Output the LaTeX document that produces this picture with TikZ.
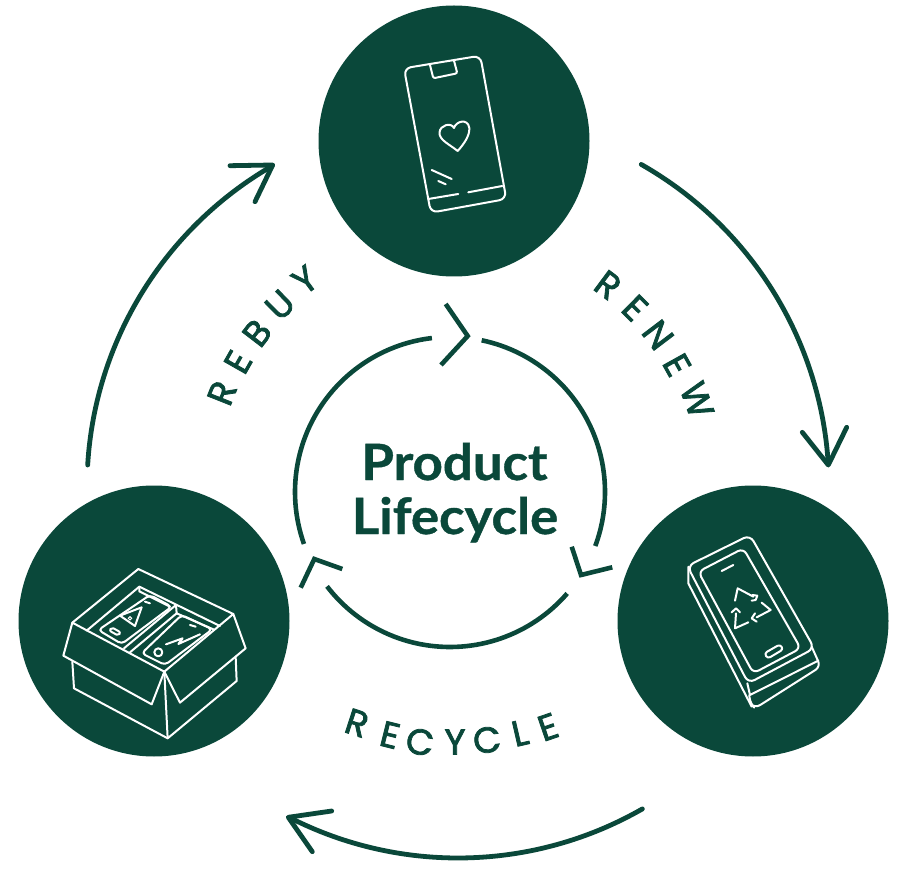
\documentclass[tikz,border=0pt]{standalone}
\usepackage{fontspec}
\usetikzlibrary{calc}
\setmainfont{Lato}[BoldFeatures={FakeBold=0.8}]
\newfontfamily\labfont{Poppins}[FakeBold=2.2]
\definecolor{forest}{HTML}{0A483A}
\tikzset{
  hub/.style={circle,fill=forest,draw=none,minimum size=271pt,inner sep=0pt},
  flow/.style={draw=forest,line width=4.8pt,line cap=round,line join=round},
  ring/.style={draw=forest,line width=4.6pt,line cap=butt,line join=miter},
  icon/.style={draw=white,line width=2pt,line join=round,line cap=round},
  glyph/.style={text=forest,font=\labfont\fontsize{36}{36}\selectfont,inner sep=0pt,anchor=center},
  heading/.style={text=forest,font=\bfseries\fontsize{50}{50}\selectfont,inner sep=0pt,anchor=base,xscale=1.055}
}
\begin{document}
\begin{tikzpicture}[x=1pt,y=-1pt]
\useasboundingbox (0,0) rectangle (908,874);
\node[hub] (hubTop) at (454,141) {};
\node[hub] (hubLeft) at (154,621) {};
\node[hub] (hubRight) at (753,621) {};

% outer arcs
\coordinate (renewS) at ($(458,487)+(-60.4:371)$);
\coordinate (rebuyS) at ($(458,487)+(183.4:371)$);
\coordinate (recycleS) at ($(458,487)+(60.2:371)$);
\coordinate (renewT) at (828.3,465);
\coordinate (rebuyT) at (272.7,165);
\coordinate (recycleT) at (288.3,817.3);
\draw[flow] (renewS) arc[start angle=-60.4,end angle=-3.6,radius=371];
\draw[flow] (rebuyS) arc[start angle=183.4,end angle=239.7,radius=371];
\draw[flow] (recycleS) arc[start angle=60.2,end angle=117,radius=371];
\coordinate (renewA) at (802.3,432.3);
\coordinate (renewB) at (846.7,427.3);
\coordinate (rebuyA) at (230,165.7);
\coordinate (rebuyB) at (255,201.7);
\coordinate (recycleA) at (331.7,811);
\coordinate (recycleB) at (312.3,851.7);
\draw[flow] (renewA) -- (renewT) -- (renewB);
\draw[flow] (rebuyA) -- (rebuyT) -- (rebuyB);
\draw[flow] (recycleA) -- (recycleT) -- (recycleB);

% inner ring
\coordinate (ringA) at ($(450,492)+(-78.2:155)$);
\coordinate (ringB) at ($(450,492)+(40.9:155)$);
\coordinate (ringC) at ($(450,492)+(160.4:155)$);
\draw[ring] (ringA) arc[start angle=-78.2,end angle=20.4,radius=155];
\draw[ring] (ringB) arc[start angle=40.9,end angle=142.5,radius=155];
\draw[ring] (ringC) arc[start angle=160.4,end angle=263.3,radius=155];
\coordinate (chevA1) at (445.7,304);
\coordinate (chevA2) at (467.7,336);
\coordinate (chevA3) at (441,365);
\coordinate (chevB1) at (571.7,546.7);
\coordinate (chevB2) at (581,575);
\coordinate (chevB3) at (612.3,567.3);
\coordinate (chevC1) at (300.7,587.7);
\coordinate (chevC2) at (314.3,559);
\coordinate (chevC3) at (342.3,569);
\draw[ring] (chevA1) -- (chevA2) -- (chevA3);
\draw[ring] (chevB1) -- (chevB2) -- (chevB3);
\draw[ring] (chevC1) -- (chevC2) -- (chevC3);

% title
\node[heading] (titleA) at (454.5,480) {Product};
\node[heading] (titleB) at (455,534) {Lifecycle};

% labels
\node[glyph,rotate=-36.6] (rn1) at (608,285) {R};
\node[glyph,rotate=-44.7] (rn2) at (635,308) {E};
\node[glyph,rotate=-52.8] (rn3) at (658,335) {N};
\node[glyph,rotate=-60.9] (rn4) at (677,365) {E};
\node[glyph,rotate=-70] (rn5) at (697,400) {W};
\node[glyph,rotate=68.3] (rb1) at (222,393) {R};
\node[glyph,rotate=60.4] (rb2) at (238,362) {E};
\node[glyph,rotate=52.5] (rb3) at (257,333) {B};
\node[glyph,rotate=44.4] (rb4) at (280,305) {U};
\node[glyph,rotate=36.5] (rb5) at (305,280) {Y};
\node[glyph,rotate=-18] (rc1) at (357,723) {R};
\node[glyph,rotate=-14] (rc2) at (390,735) {E};
\node[glyph,rotate=-9] (rc3) at (420,742) {C};
\node[glyph,rotate=0] (rc4) at (455,742) {Y};
\node[glyph,rotate=7] (rc5) at (487,740) {C};
\node[glyph,rotate=13] (rc6) at (520,733) {L};
\node[glyph,rotate=19] (rc7) at (548,727) {E};

% phone with heart
\draw[icon,rounded corners=7pt] (404,68.3) -- (480.3,55.7) -- (506.3,199) -- (430.8,212.7) -- cycle;
\draw[icon,rounded corners=2pt] (430,65) -- (433.3,78.3) -- (457.3,73.3) -- (454,60.7);
\draw[icon] (457.7,151) .. controls (449,144) and (439,140) .. (439.5,132.5)
  .. controls (440,125) and (451,122) .. (454,128)
  .. controls (456,121) and (468,118) .. (469.3,128)
  .. controls (470,136) and (463,145) .. (457.7,151) -- cycle;
\draw[icon] (431.7,170) -- (451.7,179);
\draw[icon] (438.3,181) -- (445.7,184.3);
\draw[icon] (428.3,199) -- (458.3,194);
\draw[icon] (468.3,192.3) -- (502.3,186);

% box
\begin{scope}[shift={(50,550)},x=0.3333pt,y=-0.3333pt]
\draw[icon] (265,57) -- (550,192) -- (343,365) -- (67,218) -- cycle;
\draw[icon] (67,218) -- (40,317) -- (305,463) -- (343,365);
\draw[icon] (550,192) -- (587,295) -- (390,458) -- (343,365);
\draw[icon] (67,335) -- (72,415) -- (353,565) -- (560,393) -- (557,320);
\draw[icon] (343,365) -- (353,565);
\draw[icon] (110,242) -- (268,110) -- (510,228);
\draw[icon] (268,110) -- (268,124) -- (360,170);
\draw[icon] (222,295) -- (378,165) -- (380,190) -- (240,307);
\draw[icon] (380,190) -- (490,238);
\draw[icon,rounded corners=4pt] (145,240) -- (300,135) -- (365,170) -- (215,282) -- cycle;
\draw[icon,rounded corners=4pt] (275,310) -- (395,195) -- (487,238) -- (345,345) -- cycle;
\draw[icon] (285,155) -- (300,160);
\draw[icon] (420,225) -- (437,230);
\draw[icon,rounded corners=2pt] (185,232) -- (212,247) -- (205,257) -- (178,242) -- cycle;
\draw[icon] (210,197) -- (275,172) -- (255,228) -- cycle;
\draw[draw=white,line width=1pt] (240,205) circle[radius=5];
\draw[icon] (325,307) circle[radius=12];
\draw[icon] (348,283) -- (398,265) -- (385,282) -- (450,253);
\end{scope}

% phone with recycle
\begin{scope}[shift={(670,520)},x=0.3333pt,y=-0.3333pt]
\draw[icon,rounded corners=7pt] (52,138) -- (240,45) -- (433,385) -- (235,490) -- cycle;
\draw[icon] (55,140) -- (55,190) -- (245,560);
\draw[icon] (232,490) -- (240,525) -- (445,422);
\draw[icon,rounded corners=6pt] (425,380) -- (452,440) -- (255,565) -- (240,550) -- (238,525);
\draw[icon,rounded corners=6pt] (85,155) -- (220,85) -- (392,385) -- (250,460) -- cycle;
\draw[icon] (155,153) -- (190,135);
\draw[icon,rounded corners=3pt] (283,400) -- (330,373) -- (340,388) -- (293,416) -- cycle;
\end{scope}
\begin{scope}[shift={(725,580)},x=0.3333pt,y=-0.3333pt]
\draw[icon] (30,62) -- (38,25) -- (85,50);
\draw[icon] (82,45) -- (97,47) -- (92,60) -- (80,62);
\draw[icon] (110,68) -- (137,90) -- (95,112);
\draw[icon] (90,100) -- (80,115) -- (95,125);
\draw[icon] (70,127) -- (30,145) -- (33,100);
\draw[icon] (20,97) -- (33,85) -- (45,97);
\end{scope}
\end{tikzpicture}
\end{document}
